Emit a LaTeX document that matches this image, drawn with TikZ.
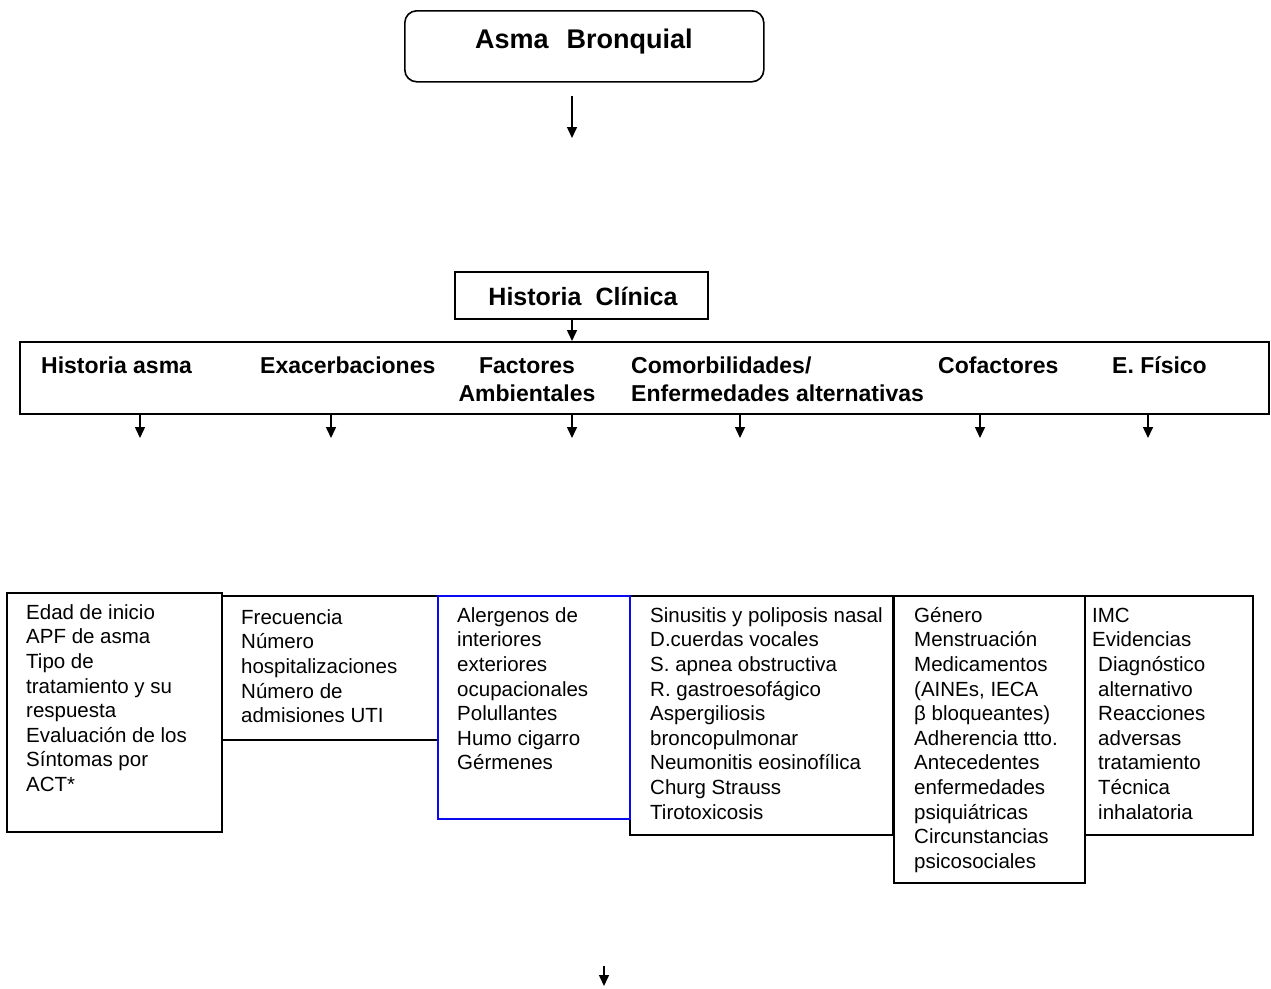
\documentclass[tikz,border=0pt]{standalone}
\usepackage{fontspec}
\setmainfont{Liberation Sans}
\usetikzlibrary{arrows.meta,calc}
\definecolor{boxblue}{RGB}{10,10,240}
\begin{document}
\begin{tikzpicture}[x=1pt,y=-1pt,
  box/.style={draw, line width=1.6pt, inner sep=0pt, anchor=north west},
  arr/.style={line width=1.5pt, -{Triangle[width=10pt,length=11pt]}},
  hd/.style={font=\fontsize{23}{28}\selectfont\bfseries, inner sep=0pt, anchor=base west},
  body/.style={font=\fontsize{20.5}{24.6}\selectfont, inner sep=0pt, anchor=north west, align=left}]
\useasboundingbox (0,0) rectangle (1271,988);

% top
\node[box, rounded corners=12pt, minimum width=359pt, minimum height=71pt] (asma) at (404,10) {};
\node[font=\fontsize{27}{32}\selectfont\bfseries, inner sep=0pt, anchor=base] (asmat) at (584,48) {Asma\hspace{18pt}Bronquial};
\coordinate (a1) at (572,96);
\coordinate (a2) at (572,138);
\draw[arr] (a1) -- (a2);

% Historia Clinica
\node[box, minimum width=253pt, minimum height=47pt] (hc) at (454,271) {};
\node[font=\fontsize{25}{30}\selectfont\bfseries, inner sep=0pt, anchor=base] (hct) at (583,305) {Historia\hspace{14pt}Clínica};

% header row
\node[box, minimum width=1249pt, minimum height=72pt] (row) at (19,341) {};
\coordinate (hcx) at (572,0);
\draw[arr] (hc.south -| hcx) -- (row.north -| hcx);

\node[hd] (h1) at (41,373) {Historia asma};
\node[hd] (h2) at (260,373) {Exacerbaciones};
\node[hd, anchor=base, align=center] (h3) at (527,401) {Factores\\Ambientales};
\node[hd, align=left] (h4) at (631,401) {Comorbilidades/\\Enfermedades alternativas};
\node[hd] (h5) at (938,373) {Cofactores};
\node[hd] (h6) at (1112,373) {E. Físico};

\foreach \x/\n in {140/1,331/2,572/3,740/4,980/5,1148/6}{
  \coordinate (s\n) at (\x,0);
  \coordinate (e\n) at (\x,438);
  \draw[arr] (row.south -| s\n) -- (e\n);
}

% bottom boxes
\node[box, minimum width=215pt, minimum height=239pt] (b1) at (6,592) {};
\node[box, minimum width=216pt, minimum height=144pt] (b2) at (221,595) {};
\node[box, minimum width=263pt, minimum height=239pt] (b4) at (629,595) {};
\node[box, minimum width=191pt, minimum height=287pt] (b5) at (893,595) {};
\node[box, minimum width=168pt, minimum height=239pt] (b6) at (1084,595) {};
\node[box, draw=boxblue, minimum width=192pt, minimum height=223pt] (b3) at (437,595) {};

\node[body] (t1) at (26,602) {\rule{0pt}{17pt}Edad de inicio\\APF de asma\\Tipo de\\tratamiento y su\\respuesta\\Evaluación de los\\Síntomas por\\ACT*};
\node[body] (t2) at (241,607) {\rule{0pt}{17pt}Frecuencia\\Número\\hospitalizaciones\\Número de\\admisiones UTI};
\node[body] (t3) at (457,605) {\rule{0pt}{17pt}Alergenos de\\interiores\\exteriores\\ocupacionales\\Polullantes\\Humo cigarro\\Gérmenes};
\node[body] (t4) at (650,605) {\rule{0pt}{17pt}Sinusitis y poliposis nasal\\D.cuerdas vocales\\S. apnea obstructiva\\R. gastroesofágico\\Aspergiliosis\\broncopulmonar\\Neumonitis eosinofílica\\Churg Strauss\\Tirotoxicosis};
\node[body] (t5) at (914,605) {\rule{0pt}{17pt}Género\\Menstruación\\Medicamentos\\(AINEs, IECA\\β bloqueantes)\\Adherencia ttto.\\Antecedentes\\enfermedades\\psiquiátricas\\Circunstancias\\psicosociales};
\node[body] (t6) at (1092,605) {\rule{0pt}{17pt}IMC\\Evidencias\\\kern6pt Diagnóstico\\\kern6pt alternativo\\\kern6pt Reacciones\\\kern6pt adversas\\\kern6pt tratamiento\\\kern6pt Técnica\\\kern6pt inhalatoria};

% bottom arrow
\coordinate (z1) at (604,966);
\coordinate (z2) at (604,986);
\draw[arr] (z1) -- (z2);
\end{tikzpicture}
\end{document}
